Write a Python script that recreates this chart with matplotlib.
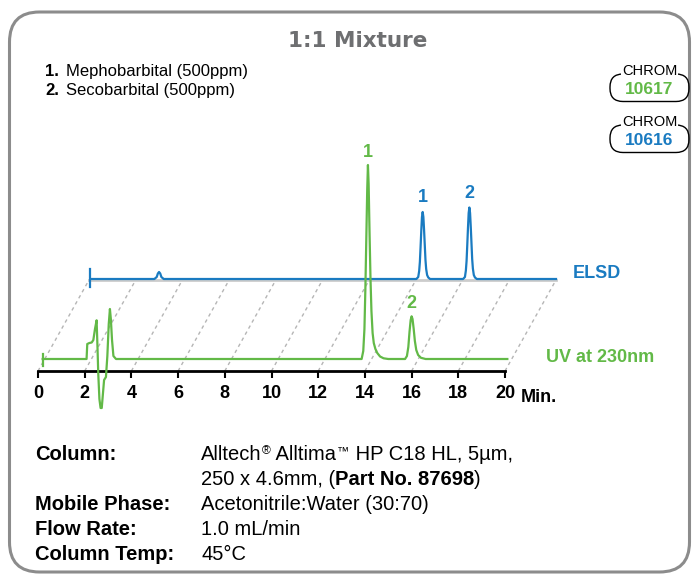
import matplotlib.pyplot as plt
from matplotlib.patches import FancyBboxPatch

# ---- data ----
ticks = [0, 2, 4, 6, 8, 10, 12, 14, 16, 18, 20]

# UV at 230nm trace (minutes, signal)
uv_time = [0.2, 2.08, 2.11, 2.2, 2.3, 2.37, 2.44, 2.51, 2.55, 2.58, 2.63, 2.68, 2.73,
           2.78, 2.83, 2.91, 2.97, 3.03, 3.08, 3.12, 3.17, 3.23, 3.34,
           13.86, 13.93, 13.98, 14.02, 14.06, 14.10, 14.13, 14.16, 14.20, 14.24, 14.28,
           14.33, 14.38, 14.45, 14.53, 14.65, 14.8, 15.0,
           15.72, 15.8, 15.86, 15.91, 15.96, 16.0, 16.04, 16.09, 16.14, 16.2, 16.28, 16.4,
           16.6, 20.1]
uv_signal = [0, 0, 15, 16, 16.5, 19, 30, 38.7, 10, -14, -40, -49, -49,
             -35, -21, -18, 3, 35, 50, 40, 19, 3, 0,
             0, 8, 30, 70, 120, 170, 194, 175, 125, 80, 48,
             26, 16, 10, 6, 2.5, 0.7, 0,
             0, 3, 12, 27, 39, 42.7, 40, 30, 18, 9, 4, 1.2,
             0, 0]

# ELSD trace (minutes, signal)
elsd_time = [0.05, 2.8, 2.9, 2.95, 3.0, 3.05, 3.1, 3.2,
             14.02, 14.10, 14.14, 14.17, 14.20, 14.23, 14.26, 14.29, 14.32, 14.35, 14.38,
             14.41, 14.44, 14.48, 14.53, 14.61,
             16.02, 16.10, 16.14, 16.17, 16.20, 16.23, 16.26, 16.29, 16.32, 16.35, 16.38,
             16.41, 16.44, 16.48, 16.53, 16.61, 20.0]
elsd_signal = [0, 0, 2, 5.5, 7, 5.5, 2, 0,
               0, 2, 8, 17, 32, 48, 62, 67, 62, 49, 34,
               19, 10, 4, 1.5, 0,
               0, 2, 8.5, 18, 34, 51, 66, 71.5, 66, 52, 36,
               20, 10.5, 4, 1.5, 0, 0]

uv_peak_time = [14.13, 16.0]
uv_peak_height = [194, 42.7]
elsd_peak_time = [14.29, 16.29]
elsd_peak_height = [67, 71.5]
peak_labels = ['1', '2']

compounds = ['Mephobarbital (500ppm)', 'Secobarbital (500ppm)']
cond_names = ['Column:', '', 'Mobile Phase:', 'Flow Rate:', 'Column Temp:']
# each value line is a run of (text, bold, small superscript)
cond_values = [
    [('Alltech', False, False), ('®', False, True), (' Alltima', False, False),
     ('™', False, True), (' HP C18 HL, 5µm,', False, False)],
    [('250 x 4.6mm, (', False, False), ('Part No. 87698', True, False), (')', False, False)],
    [('Acetonitrile:Water (30:70)', False, False)],
    [('1.0 mL/min', False, False)],
    [('45°C', False, False)],
]

green = '#62b947'
blue = '#1a7bc1'
sans = ['Liberation Sans', 'DejaVu Sans']

W, H = 695, 580
fig = plt.figure(figsize=(W / 100, H / 100), dpi=100)
renderer = fig.canvas.get_renderer()

# overlay in pixel units for the frame and the text blocks
bg = fig.add_axes([0, 0, 1, 1])
bg.set_xlim(0, W)
bg.set_ylim(H, 0)
bg.axis('off')


def run_text(x, y, pieces, size):
    # draw pieces one after the other on a common baseline
    for txt, bold, sup in pieces:
        t = bg.text(x, y - (6 if sup else 0), txt, ha='left', va='baseline',
                    fontsize=size * 0.6 if sup else size,
                    fontweight='bold' if bold else 'normal', family=sans)
        bb = t.get_window_extent(renderer)
        x = bg.transData.inverted().transform((bb.x1, bb.y0))[0] + (1 if sup else 0)


bg.add_patch(FancyBboxPatch((9.5, 12), 680, 560, boxstyle='round,pad=0,rounding_size=30',
                            fc='none', ec='#8c8c8c', lw=2.2))
bg.text(358, 41, '1:1 Mixture', ha='center', va='center', fontsize=15.5,
        fontweight='bold', color='#6e6f71', family='DejaVu Sans')

for i, name in enumerate(compounds):
    y = 76 + 19 * i
    bg.text(45, y, f'{i + 1}.', ha='left', va='baseline', fontsize=12, fontweight='bold', family=sans)
    bg.text(66, y, name, ha='left', va='baseline', fontsize=12, family=sans)

# CHROM badges
for k, (num, col) in enumerate([('10617', green), ('10616', blue)]):
    top = 74 + 51 * k
    bg.add_patch(FancyBboxPatch((610, top), 79, 27.5, boxstyle='round,pad=0,rounding_size=13',
                                fc='none', ec='black', lw=1))
    bg.text(649.5, top - 3, 'CHROM', ha='center', va='center', fontsize=10.5, family=sans,
            bbox=dict(fc='white', ec='none', pad=0.3))
    bg.text(649.5, top + 15.5, num, ha='center', va='center', fontsize=12.5, fontweight='bold',
            color=col, family=sans)

# chromatogram axes: 1 y unit = 1 px, x = minutes
x0, x1, y_axis = 38, 505, 371
ax_h = 241
ax = fig.add_axes([x0 / W, (H - y_axis) / H, (x1 - x0) / W, ax_h / H])
ax.set_facecolor('none')
ax.set_xlim(0, 20)
ax.set_ylim(-12, ax_h - 12)
for s in ['top', 'left', 'right']:
    ax.spines[s].set_visible(False)
ax.spines['bottom'].set_linewidth(2)
ax.set_yticks([])
ax.set_xticks(ticks)
ax.set_xticklabels([str(t) for t in ticks], fontsize=13, fontweight='bold', family=sans)
ax.tick_params(axis='x', direction='out', length=5, width=1.5, pad=5)

# back plane offset (in minutes / px)
dx = 51 / ((x1 - x0) / 20)
dy = 80

for t in ticks:
    ax.plot([t, t + dx], [-12, dy - 1], color='#b5b5b5', lw=1, ls=(0, (2.5, 2.5)),
            clip_on=False, zorder=1)
ax.plot([dx, 20 + dx], [dy - 0.8, dy - 0.8], color='#cccccc', lw=2, clip_on=False, zorder=2)

ax.plot([t + dx for t in elsd_time], [s + dy for s in elsd_signal], color=blue, lw=1.6,
        clip_on=False, zorder=3)
ax.plot([elsd_time[0] + dx] * 2, [dy - 8, dy + 10], color=blue, lw=1.6, clip_on=False, zorder=3)

ax.plot(uv_time, uv_signal, color=green, lw=1.6, clip_on=False, zorder=4)
ax.plot([uv_time[0]] * 2, [-7, 5], color=green, lw=1.6, clip_on=False, zorder=4)

for t, h, lab in zip(uv_peak_time, uv_peak_height, peak_labels):
    ax.annotate(lab, (t, h), xytext=(0, 3), textcoords='offset points', ha='center', va='bottom',
                fontsize=13, fontweight='bold', color=green, family=sans, annotation_clip=False)
for t, h, lab in zip(elsd_peak_time, elsd_peak_height, peak_labels):
    ax.annotate(lab, (t + dx, h + dy), xytext=(0, 4), textcoords='offset points', ha='center',
                va='bottom', fontsize=13, fontweight='bold', color=blue, family=sans,
                annotation_clip=False)

bg.text(573, 273, 'ELSD', ha='left', va='center', fontsize=13, fontweight='bold', color=blue,
        family=sans)
bg.text(546, 358, 'UV at 230nm', ha='left', va='center', fontsize=13, fontweight='bold',
        color=green, family=sans)
bg.text(521, 398, 'Min.', ha='left', va='center', fontsize=13, fontweight='bold', family=sans)

# method conditions
rows_y = [460, 485, 510, 535, 560]
fs = 14.5
for name, pieces, y in zip(cond_names, cond_values, rows_y):
    bg.text(35, y, name, ha='left', va='baseline', fontsize=fs, fontweight='bold', family=sans)
    run_text(201, y, pieces, fs)

fig.savefig('out.png', dpi=100)
